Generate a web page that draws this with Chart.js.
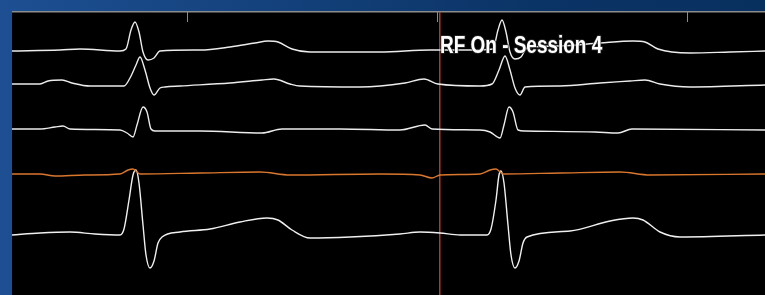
<!DOCTYPE html>
<html>
<head>
<meta charset="utf-8">
<script src="https://cdn.jsdelivr.net/npm/chart.js@4.4.0/dist/chart.umd.min.js"></script>
<style>
  html, body { margin: 0; padding: 0; }
  body { width: 765px; height: 295px; overflow: hidden;
         background: linear-gradient(to right, #1d4f92, #0b3466 70%, #08305f); }
</style>
</head>
<body>
<canvas id="ecgChart" width="765" height="295"></canvas>
<script>
// time in ms, amplitude in display units (up = positive), one array pair per channel
const ch1Time = [150, 246, 286, 366, 378, 388, 396, 404, 412, 422, 434, 446, 526, 586, 636, 662, 682, 710, 746, 886, 986, 1066, 1112, 1122, 1130, 1138, 1146, 1156, 1168, 1180, 1246, 1326, 1392, 1416, 1442, 1506, 1586, 1656];
const ch1Amp  = [-1, 0, 1, -1, 1, 20, 28, 18, -2, -10, -8, -1, 0, 3, 7, 9, 8, 1, -2, -2, 0, 0, 1, 20, 30, 18, -2, -9, -7, 2, 4, 7, 9, 8, 1, -3, -2, -1];

const ch2Time = [150, 206, 222, 250, 270, 306, 374, 386, 398, 406, 416, 426, 434, 446, 456, 486, 586, 650, 674, 706, 726, 846, 936, 974, 1002, 1086, 1110, 1124, 1136, 1146, 1156, 1166, 1176, 1246, 1326, 1386, 1416, 1446, 1506, 1656];
const ch2Amp  = [1, 1, 4, 5, 2, -1, -1, 7, 20, 28, 15, -3, -10, -3, -2, -1, 2, 5, 6, 1, -1, -2, 2, 6, 1, -1, 1, 15, 29, 15, -3, -10, -2, -1, 2, 4, 5, 1, -2, 0];

const ch3Time = [150, 206, 236, 252, 266, 366, 380, 392, 400, 412, 420, 428, 436, 526, 650, 690, 806, 926, 976, 990, 1086, 1106, 1126, 1134, 1144, 1152, 1162, 1176, 1316, 1362, 1390, 1656];
const ch3Amp  = [1, 1, 3, 4, 1, 0, -3, -7, 5, 23, 18, 1, -1, -1, -3, 1, 1, 0, 5, 1, 0, -2, -8, 5, 23, 18, 0, -1, -2, -3, 1, 0];

const ch4Time = [150, 206, 236, 296, 366, 382, 392, 406, 526, 646, 706, 886, 966, 990, 1006, 1086, 1106, 1118, 1132, 1246, 1366, 1426, 1656];
const ch4Amp  = [0, 0, -2, -1, 0, 4, 5, 0, 1, 2, -1, 0, -1, -4, -1, 0, 4, 5, 0, 1, 2, -1, 0];

const ch5Time = [150, 206, 266, 316, 366, 374, 384, 392, 398, 404, 412, 418, 426, 434, 442, 450, 486, 546, 606, 660, 682, 710, 746, 826, 926, 966, 1006, 1046, 1100, 1108, 1118, 1124, 1128, 1134, 1142, 1148, 1156, 1164, 1172, 1180, 1266, 1346, 1392, 1412, 1446, 1486, 1656];
const ch5Amp  = [0, 2, 3, 1, 0, 6, 35, 60, 65, 52, 10, -20, -33, -26, -8, -2, 3, 6, 13, 17, 15, 5, -3, -2, 1, 3, 2, 0, 0, 6, 35, 60, 64, 52, 10, -20, -33, -26, -8, -2, 4, 14, 17, 15, 3, -2, 0];

const laneOffsets = [245, 210, 165, 121, 60];
const tickTimes = [500, 1000, 1500];
const rfOnTime = 1004;
const rfLabel = 'RF On - Session 4';

const channels = [
  [ch1Time, ch1Amp, '#ececec'],
  [ch2Time, ch2Amp, '#ececec'],
  [ch3Time, ch3Amp, '#ececec'],
  [ch4Time, ch4Amp, '#d9772d'],
  [ch5Time, ch5Amp, '#f0f0f0']
];

const datasets = channels.map(([t, a, color], i) => ({
  data: t.map((v, k) => ({ x: v, y: laneOffsets[i] + a[k] })),
  borderColor: color,
  borderWidth: 1.4,
  pointRadius: 0,
  cubicInterpolationMode: 'monotone',
  fill: false
}));

const ecgFrame = {
  id: 'ecgFrame',
  beforeDatasetsDraw(chart) {
    const { ctx, chartArea: a, scales: { x } } = chart;
    ctx.save();
    ctx.fillStyle = '#000';
    ctx.fillRect(a.left, a.top, a.right - a.left, a.bottom - a.top);
    ctx.fillStyle = '#8c8c8c';
    ctx.fillRect(a.left, a.top - 1, a.right - a.left, 1.5);
    ctx.strokeStyle = '#8c8c8c';
    ctx.lineWidth = 1;
    tickTimes.forEach(t => {
      const px = Math.round(x.getPixelForValue(t)) + 0.5;
      ctx.beginPath();
      ctx.moveTo(px, a.top);
      ctx.lineTo(px, a.top + 10);
      ctx.stroke();
    });
    // RF on marker
    const rx = Math.round(x.getPixelForValue(rfOnTime));
    ctx.fillStyle = '#b23a24';
    ctx.fillRect(rx, a.top, 1.5, a.bottom - a.top);
    ctx.restore();
  },
  afterDatasetsDraw(chart) {
    const { ctx, scales: { x } } = chart;
    const rx = x.getPixelForValue(rfOnTime);
    ctx.save();
    ctx.translate(rx + 1, 53);
    ctx.scale(0.79, 1);
    ctx.font = 'bold 24px "Liberation Sans", Arial, sans-serif';
    ctx.lineWidth = 2;
    ctx.strokeStyle = 'rgba(40,40,40,0.8)';
    ctx.strokeText(rfLabel, 0, 0);
    ctx.fillStyle = '#ffffff';
    ctx.fillText(rfLabel, 0, 0);
    ctx.restore();
  }
};

new Chart(document.getElementById('ecgChart'), {
  type: 'line',
  data: { datasets },
  options: {
    responsive: false,
    animation: false,
    devicePixelRatio: 1,
    layout: { padding: { left: 12, top: 12, right: 0, bottom: 0 } },
    plugins: { legend: { display: false }, tooltip: { enabled: false } },
    scales: {
      x: { type: 'linear', min: 150, max: 1656, display: false },
      y: { min: 0, max: 283, display: false }
    }
  },
  plugins: [ecgFrame]
});
</script>
</body>
</html>
